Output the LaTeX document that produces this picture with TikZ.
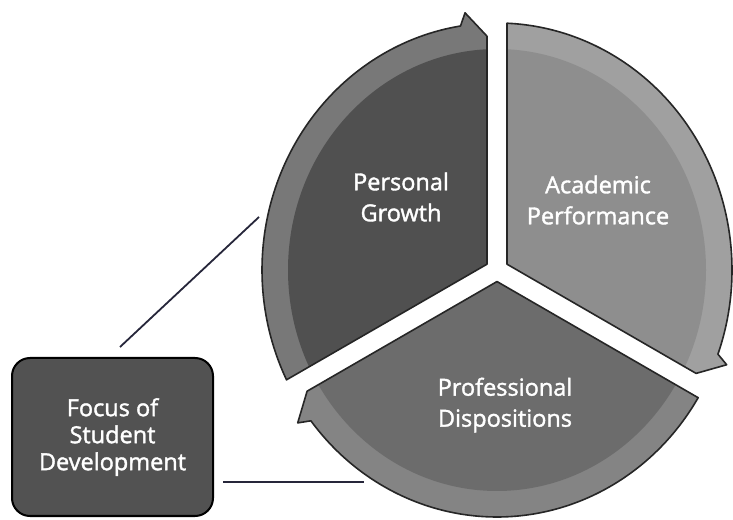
\documentclass[tikz,border=0pt]{standalone}
\usepackage{fontspec}
\setmainfont{Open Sans}
\newfontfamily\labelfont[FakeBold=1.6]{Open Sans}
\usetikzlibrary{calc}
\definecolor{pgband}{HTML}{787878}
\definecolor{pginner}{HTML}{505050}
\definecolor{apband}{HTML}{A0A0A0}
\definecolor{apinner}{HTML}{8E8E8E}
\definecolor{pdband}{HTML}{848484}
\definecolor{pdinner}{HTML}{6C6C6C}
\definecolor{boxfill}{HTML}{525252}
\definecolor{edgecol}{HTML}{262626}
\definecolor{linkcol}{HTML}{26263A}
\begin{document}
\begin{tikzpicture}[x=1pt,y=1pt,
  seglabel/.style={text=white, align=center, font=\labelfont\fontsize{23.5}{31}\selectfont},
  segedge/.style={draw=edgecol, line width=1.6pt, line join=round},
  link/.style={draw=linkcol, line width=1.8pt},
  focusbox/.style={draw=black, line width=2pt, fill=boxfill, rounded corners=18pt,
    minimum width=201pt, minimum height=158pt, text=white, align=center,
    font=\labelfont\fontsize{23.5}{27}\selectfont}]
\useasboundingbox (0,0) rectangle (733,519);
\fill[white] (0,0) rectangle (733,519);
\coordinate (C) at (497,249);
% Personal Growth sector
\path[save path=\pathA] (487,254.8) -- (487,482.8)
  -- ($(C)+(97.44:246.75pt and 259.35pt)$)
  -- ($(C)+(98.94:235pt and 247pt)$)
  arc[start angle=98.94, end angle=206.4, x radius=235pt, y radius=247pt] -- cycle;
% Academic Performance sector
\path[save path=\pathB] (507,254.8) -- (696.1,145.6)
  -- ($(C)+(-21.43:246.75pt and 259.35pt)$)
  -- ($(C)+(-19.93:235pt and 247pt)$)
  arc[start angle=-19.93, end angle=87.56, x radius=235pt, y radius=247pt] -- cycle;
% Professional Dispositions sector
\path[save path=\pathC] (497,237.45) -- (307.1,127.8)
  -- ($(C)+(216.13:246.75pt and 259.35pt)$)
  -- ($(C)+(217.63:235pt and 247pt)$)
  arc[start angle=217.63, end angle=328.87, x radius=235pt, y radius=247pt] -- cycle;

\fill[pgband, use path=\pathA];
\begin{scope}
  \clip[use path=\pathA];
  \fill[pginner] (C) ellipse[x radius=209pt, y radius=221pt];
\end{scope}
\draw[segedge, use path=\pathA];

\fill[apband, use path=\pathB];
\begin{scope}
  \clip[use path=\pathB];
  \fill[apinner] (C) ellipse[x radius=209pt, y radius=221pt];
\end{scope}
\draw[segedge, use path=\pathB];

\fill[pdband, use path=\pathC];
\begin{scope}
  \clip[use path=\pathC];
  \fill[pdinner] (C) ellipse[x radius=209pt, y radius=221pt];
\end{scope}
\draw[segedge, use path=\pathC];

\node[seglabel] (pg) at (401,322) {Personal\\Growth};
\node[seglabel] (ap) at (598,319) {Academic\\Performance};
\node[seglabel] (pd) at (505,114) {Professional\\Dispositions};

\node[focusbox] (focus) at (112.5,82) {Focus of\\Student\\Development};

\coordinate (l1s) at ($(focus.north)+(7.5,10)$);
\coordinate (l1e) at (259,302);
\coordinate (l2s) at ($(focus.east)+(9,-45)$);
\coordinate (l2e) at ($(l2s)+(141,0)$);
\draw[link] (l1s) -- (l1e);
\draw[link] (l2s) -- (l2e);
\end{tikzpicture}
\end{document}
